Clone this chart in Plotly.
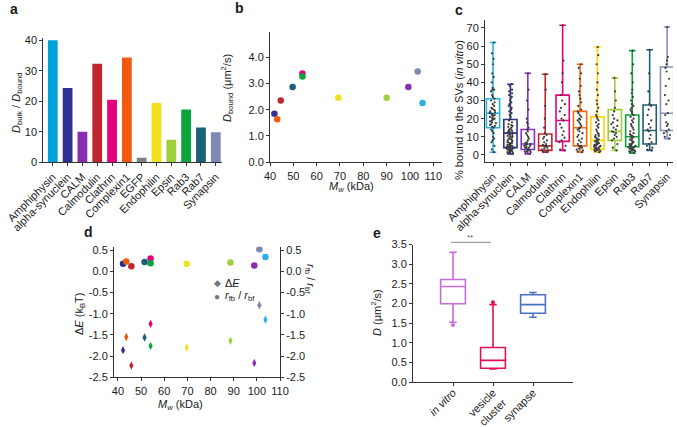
import plotly.graph_objects as go

W, H = 677, 427
def fx(p): return p / W
def fy(p): return 1 - p / H

FONT = "Liberation Sans, Arial, sans-serif"
TXT = "#1a1a1a"

# ---------------- data ----------------
# panel a
a_names = ["Amphiphysin", "alpha-synuclein", "CALM", "Calmodulin", "Clathrin", "Complexin1",
           "EGFP", "Endophilin", "Epsin", "Rab3", "Rab7", "Synapsin"]
a_ratio = [40.0, 24.3, 10.0, 32.3, 20.5, 34.3, 1.5, 19.4, 7.4, 17.3, 11.4, 9.8]
a_colors = ["#00a3d9", "#2e3192", "#8a2db3", "#c0272d", "#e5007d", "#f05a0e",
            "#7f7f7f", "#f0e01e", "#9fd03c", "#0aa33c", "#1c5f78", "#7d89b3"]

# panel b / d order of proteins
bd_colors = ["#2e3192", "#f05a0e", "#c0272d", "#1c5f78", "#e5007d", "#0aa33c",
             "#f0e01e", "#9fd03c", "#8a2db3", "#7d89b3", "#2eaee6"]
b_mw = [41.9, 43.1, 44.6, 49.7, 53.9, 53.9, 69.3, 90.0, 99.3, 103.3, 105.4]
b_dbound = [1.84, 1.64, 2.35, 2.86, 3.37, 3.26, 2.45, 2.45, 2.86, 3.45, 2.25]

d_mw = [42.2, 43.6, 45.8, 51.5, 54.1, 54.1, 69.7, 88.6, 98.9, 101.1, 103.7]
d_ratio = [0.175, 0.23, 0.12, 0.22, 0.30, 0.19, 0.18, 0.21, 0.135, 0.52, 0.34]
d_dE = [-1.86, -1.55, -2.22, -1.56, -1.24, -1.76, -1.80, -1.64, -2.16, -0.80, -1.14]
d_dE_err = [0.05, 0.05, 0.06, 0.05, 0.06, 0.05, 0.05, 0.05, 0.06, 0.05, 0.05]
d_ticks = [-2.5, -2.0, -1.5, -1.0, -0.5, 0.0, 0.5]
d_ticktext = ["-2.5", "-2.0", "-1.5", "-1.0", "-0.5", "0.0", "0.5"]

# panel c
c_names = ["Amphiphysin", "alpha-synuclein", "CALM", "Calmodulin", "Clathrin", "Complexin1",
           "Endophilin", "Epsin", "Rab3", "Rab7", "Synapsin"]
c_colors = ["#1fb4e0", "#2e3192", "#8b2fc9", "#c0272d", "#e5007d", "#f26a10",
            "#ffd500", "#9fd03c", "#0aa33c", "#1c5f78", "#8892b8"]
c_low = [1.5, 0.5, 0.5, 1.5, 2.5, 1.5, 1.5, 2.5, 1.0, 2.5, 9.0]
c_q1 = [15.0, 4.0, 3.0, 2.5, 7.5, 5.0, 3.0, 8.0, 4.5, 6.0, 13.5]
c_med = [23.0, 12.0, 6.0, 5.0, 19.0, 15.0, 8.0, 13.0, 10.0, 13.5, 23.0]
c_q3 = [31.0, 19.5, 14.0, 11.5, 33.0, 24.0, 21.0, 25.0, 22.0, 27.5, 48.5]
c_high = [62.0, 39.0, 45.0, 44.5, 71.5, 50.0, 59.5, 42.5, 57.5, 58.0, 70.5]
c_points = [
    [1.5, 3, 5, 7, 8, 9, 10, 12, 13, 14, 15, 15.5, 16, 16.5, 17, 17.5, 18, 18.5, 19, 19.5, 20, 20,
     20.5, 21, 21.5, 22, 22, 22.5, 23, 23, 23.5, 24, 24.5, 25, 25.5, 26, 27, 28, 29, 30, 31, 32, 33,
     35, 36, 36, 37, 40, 43, 45, 50, 53, 56, 62],
    [0.5, 1, 1, 1.5, 1.5, 2, 2, 2.5, 2.5, 3, 3, 3, 3.5, 3.5, 4, 4, 4, 4.5, 4.5, 5, 5, 5, 5.5, 5.5, 6,
     6, 6.5, 6.5, 7, 7, 7.5, 8, 8, 8.5, 9, 9, 9.5, 10, 10, 10.5, 11, 11, 11.5, 12, 12, 12.5, 13, 13,
     13.5, 14, 14.5, 15, 15.5, 16, 16.5, 17, 18, 19, 20, 21, 22, 23, 24, 25, 26, 27, 28, 29, 30, 31,
     32, 33, 34, 35, 36, 38, 39],
    [0.5, 1, 1.5, 2, 2, 2.5, 3, 3, 3.5, 4, 4, 4.5, 5, 5, 5.5, 6, 6, 6.5, 7, 8, 9, 10, 11, 12, 13, 14,
     15, 17, 18, 20, 25, 30, 36, 45],
    [1.5, 2, 2.5, 3, 3.5, 4, 4.5, 5, 5, 5.5, 6, 7, 8, 9, 10, 11, 12, 15, 20, 27, 36, 44.5],
    [2.5, 3, 5, 7, 8, 9.5, 11, 13, 15, 17, 19, 20, 22, 24, 26, 28, 30, 33, 40, 45, 52, 71.5],
    [1.5, 2, 2.5, 3, 3.5, 4, 4.5, 5, 5, 6, 7, 8, 9, 10, 11, 12, 13, 14, 14.5, 15, 16, 17, 18, 19,
     19.5, 20, 21, 22, 23, 24, 25, 27, 29, 31, 33, 35, 38, 42, 45, 48, 50],
    [1.5, 2, 2, 2.5, 2.5, 3, 3, 3, 3.5, 3.5, 4, 4, 4.5, 4.5, 5, 5, 5.5, 5.5, 6, 6, 6.5, 7, 7, 7.5, 8,
     8, 8.5, 9, 9.5, 10, 10.5, 11, 11.5, 12, 13, 14, 15, 16, 17, 18, 19, 20, 21, 22, 24, 26, 28, 30,
     33, 36, 40, 45, 50, 55, 59.5],
    [2.5, 4, 6, 8, 9, 10, 11, 12, 12.5, 13, 14, 15, 16, 17, 18, 19, 20, 22, 24, 26, 30, 35, 42.5],
    [1, 1.5, 2, 2, 2.5, 2.5, 3, 3, 3.5, 3.5, 4, 4, 4.5, 4.5, 5, 5, 5.5, 6, 6, 6.5, 7, 7.5, 8, 8.5, 9,
     9.5, 10, 10.5, 11, 11.5, 12, 13, 14, 15, 16, 17, 18, 19, 20, 21, 22, 23, 24, 25, 26, 27, 28, 30,
     32, 34, 36, 40, 45, 50, 57.5],
    [2.5, 3, 4, 5, 6, 7, 9, 11, 13, 14, 15, 17, 19, 22, 25, 27, 28, 35, 45, 58],
    [9, 10, 11, 12, 13, 14, 16, 17, 18, 22, 23, 28, 30, 33, 38, 42, 46, 48, 50, 52, 54, 70.5],
]

# panel e
e_names = ["<i>in vitro</i>", "vesicle<br>cluster", "synapse"]
e_colors = ["#c86dd7", "#e0105a", "#4a72c4"]
e_low = [1.52, 0.33, 1.65]
e_q1 = [1.99, 0.35, 1.75]
e_med = [2.43, 0.55, 1.97]
e_q3 = [2.61, 0.88, 2.22]
e_high = [3.30, 1.97, 2.28]
e_out_x = [0, 1]
e_out_y = [1.45, 2.03]

# ---------------- figure ----------------
fig = go.Figure()

# a: bars
fig.add_trace(go.Bar(x=list(range(len(a_names))), y=a_ratio, marker=dict(color=a_colors, line=dict(width=0)),
                     width=0.66, xaxis="x", yaxis="y", showlegend=False))

# b: scatter
fig.add_trace(go.Scatter(x=b_mw, y=b_dbound, mode="markers",
                         marker=dict(color=bd_colors, size=6.5), xaxis="x2", yaxis="y2", showlegend=False))

# c: boxes + points
for i, name in enumerate(c_names):
    fig.add_trace(go.Box(x=[i], q1=[c_q1[i]], median=[c_med[i]], q3=[c_q3[i]],
                         lowerfence=[c_low[i]], upperfence=[c_high[i]],
                         width=0.76, whiskerwidth=0.5,
                         line=dict(color=c_colors[i], width=1.6), fillcolor="rgba(255,255,255,0)",
                         xaxis="x3", yaxis="y3", showlegend=False, boxpoints=False))
for i, name in enumerate(c_names):
    fig.add_trace(go.Box(x=[i] * len(c_points[i]), y=c_points[i], boxpoints="all", jitter=0.6, pointpos=0,
                         width=0.76, line=dict(color="rgba(0,0,0,0)", width=0),
                         fillcolor="rgba(0,0,0,0)",
                         marker=dict(color="#3a3a3a", size=2.2),
                         xaxis="x3", yaxis="y3", showlegend=False))

# d: scatter (dE diamonds, ratio circles)
fig.add_trace(go.Scatter(x=d_mw, y=d_dE, mode="markers",
                         marker=dict(color=bd_colors, size=6, symbol="diamond-tall"),
                         error_y=dict(type="data", array=d_dE_err, thickness=1, width=0, color="#999"),
                         xaxis="x4", yaxis="y4", showlegend=False))
fig.add_trace(go.Scatter(x=d_mw, y=d_ratio, mode="markers",
                         marker=dict(color=bd_colors, size=6.5, symbol="circle"),
                         xaxis="x4", yaxis="y6", showlegend=False))

# e: boxes
for i in range(len(e_names)):
    fig.add_trace(go.Box(x=[i], q1=[e_q1[i]], median=[e_med[i]], q3=[e_q3[i]],
                         lowerfence=[e_low[i]], upperfence=[e_high[i]],
                         width=0.62, whiskerwidth=0.3,
                         line=dict(color=e_colors[i], width=1.6), fillcolor="rgba(255,255,255,0)",
                         xaxis="x5", yaxis="y5", showlegend=False, boxpoints=False))
fig.add_trace(go.Scatter(x=e_out_x, y=e_out_y, mode="markers",
                         marker=dict(color=e_colors[:2], size=4), xaxis="x5", yaxis="y5", showlegend=False))

axis_common = dict(showline=True, linecolor="#333", linewidth=1, ticks="outside", ticklen=3,
                   tickcolor="#333", showgrid=False, zeroline=False, automargin=False,
                   tickfont=dict(family=FONT, size=11, color=TXT))

fig.update_layout(
    width=W, height=H, margin=dict(l=0, r=0, t=0, b=0, pad=0, autoexpand=False),
    paper_bgcolor="white", plot_bgcolor="white",
    font=dict(family=FONT, size=11, color=TXT),
    boxmode="overlay", bargap=0.3, showlegend=False,
    xaxis=dict(**axis_common, domain=[fx(43.3), fx(221.7)], range=[-0.64, 11.4],
               tickvals=list(range(len(a_names))), ticktext=a_names, tickangle=-45, anchor="y"),
    yaxis=dict(**axis_common, domain=[fy(162.3), fy(37.7)], range=[0, 40.8],
               tickvals=[0, 10, 20, 30, 40], anchor="x"),
    xaxis2=dict(**axis_common, domain=[fx(270), fx(441.7)], range=[40, 113.6],
                tickvals=[40, 50, 60, 70, 80, 90, 100, 110], anchor="y2"),
    yaxis2=dict(**axis_common, domain=[fy(162.3), fy(32)], range=[0, 4.95],
                tickvals=[0, 1, 2, 3, 4], tickformat=".1f", anchor="x2"),
    xaxis3=dict(**axis_common, domain=[fx(485), fx(673)], range=[-0.46, 10.34],
                tickvals=list(range(len(c_names))), ticktext=c_names, tickangle=-45, anchor="y3"),
    yaxis3=dict(**axis_common, domain=[fy(162), fy(20)], range=[-3.9, 74.4],
                tickvals=[0, 10, 20, 30, 40, 50, 60, 70], anchor="x3"),
    xaxis4=dict(**axis_common, domain=[fx(114), fx(280)], range=[38.3, 110],
                tickvals=[40, 50, 60, 70, 80, 90, 100, 110], anchor="y4"),
    yaxis4=dict(**axis_common, domain=[fy(377.3), fy(246.7)], range=[-2.5, 0.58],
                tickvals=d_ticks, ticktext=d_ticktext, anchor="x4"),
    yaxis6=dict(**axis_common, domain=[fy(377.3), fy(246.7)], range=[-2.5, 0.58],
                tickvals=d_ticks, ticktext=d_ticktext, anchor="x4", overlaying="y4", side="right"),
    xaxis5=dict(**axis_common, domain=[fx(413), fx(573)], range=[-1, 3],
                tickvals=[0, 1, 2], ticktext=e_names, tickangle=-45, anchor="y5",
                ticklabelstandoff=-4),
    yaxis5=dict(**axis_common, domain=[fy(382), fy(244.5)], range=[0, 3.5],
                tickvals=[0, 0.5, 1, 1.5, 2, 2.5, 3, 3.5], tickformat=".1f", anchor="x5"),
)

def ann(text, px, py, size=11, angle=0, bold=False, xanchor="center", yanchor="middle", color=TXT):
    if bold:
        text = "<b>" + text + "</b>"
    fig.add_annotation(text=text, x=fx(px), y=fy(py), xref="paper", yref="paper",
                       showarrow=False, textangle=angle, xanchor=xanchor, yanchor=yanchor,
                       font=dict(family=FONT, size=size, color=color))

# panel letters
ann("a", 8, 9, size=14, bold=True, xanchor="left")
ann("b", 233, 8, size=14, bold=True, xanchor="left")
ann("c", 453, 10, size=14, bold=True, xanchor="left")
ann("d", 82, 232, size=14, bold=True, xanchor="left")
ann("e", 371, 233, size=14, bold=True, xanchor="left")

# axis titles
ann("<i>D</i><sub>bulk</sub> / <i>D</i><sub>bound</sub>", 17, 103, angle=-90)
ann("<i>D</i><sub>bound</sub> (μm<sup>2</sup>/s)", 227, 88, angle=-90)
ann("<i>M<sub>w</sub></i> (kDa)", 352, 187)
ann("% bound to the SVs (<i>in vitro</i>)", 459, 110, angle=-90)
ann("Δ<i>E</i> (k<sub>B</sub>T)", 80, 314, angle=-90)
ann("<i>M<sub>w</sub></i> (kDa)", 180, 405)
ann("<i>r</i><sub>fb</sub> / <i>r</i><sub>bf</sub>", 310, 279, angle=90)
ann("<i>D</i> (μm<sup>2</sup>/s)", 376, 313, angle=-90)

# d legend
ann("◆", 217, 283, size=9, color="#777")
ann("●", 217, 296, size=10, color="#777")
ann("Δ<i>E</i>", 223, 283, xanchor="left")
ann("<i>r</i><sub>fb</sub> / <i>r</i><sub>bf</sub>", 223, 296, xanchor="left")

# e significance
fig.add_shape(type="line", xref="paper", yref="paper", x0=fx(451), x1=fx(491), y0=fy(242.3), y1=fy(242.3),
              line=dict(color="#888", width=1))
ann("**", 470, 238, size=8, color="#555")

fig.write_html("out.html", config={"displayModeBar": False},
               post_script="document.body.style.margin='0';document.body.style.overflow='hidden';")
